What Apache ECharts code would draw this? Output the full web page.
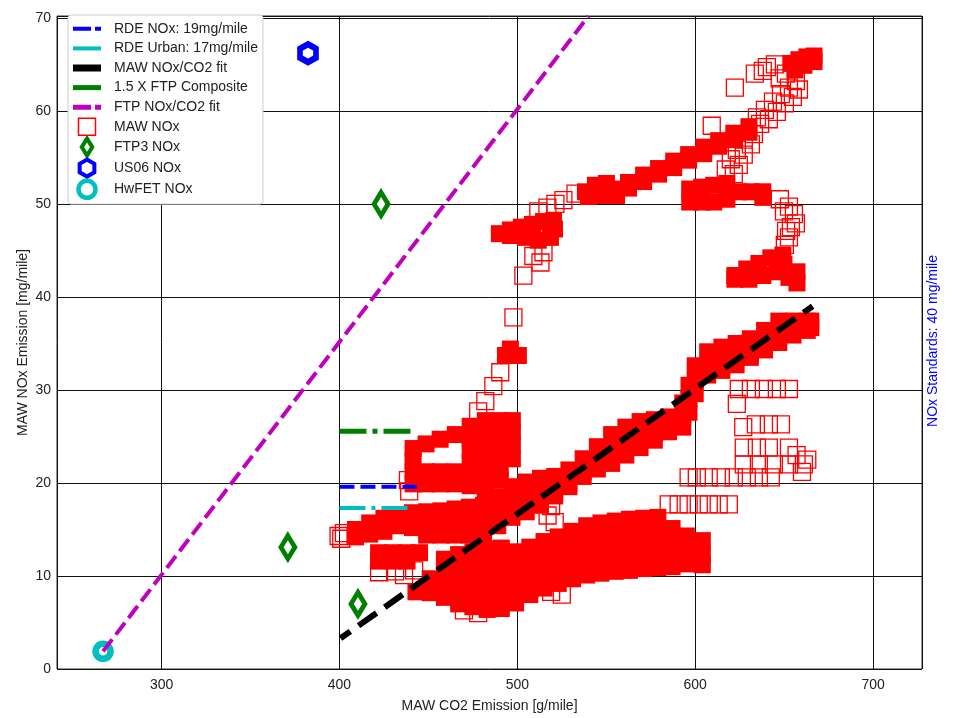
<!DOCTYPE html>
<html><head><meta charset="utf-8">
<script src="https://cdn.jsdelivr.net/npm/echarts@6/dist/echarts.min.js"></script>
<style>html,body{margin:0;padding:0;background:#fff}#c{width:957px;height:718px}</style>
</head><body><div id="c"></div>
<script>
// ---- data (g/mile CO2, mg/mile NOx) ----
var legendNames = ['RDE NOx: 19mg/mile','RDE Urban: 17mg/mile','MAW NOx/CO2 fit','1.5 X FTP Composite','FTP NOx/CO2 fit','MAW NOx','FTP3 NOx','US06 NOx','HwFET NOx'];
var rdeNox = [[400,19.6],[443.5,19.6]];
var rdeUrban = [[400,17.3],[441,17.3]];
var mawFit = [[400.6,3.3],[666,39.0]];
var ftpComposite = [[400,25.55],[441,25.55]];
var ftpFit = [[267.1,1.9],[540,70.2]];
var ftp3 = [[371,13.1],[423.4,50.0],[410.4,7.0]];
var us06 = [[382.3,66.2]];
var hwfet = [[267.1,1.9]];

// MAW NOx points drawn as open squares (sparse parts of the trace)
var mawOpen = [
 [503.4,42.3],[513.0,43.7],[509.0,44.4],[514.7,44.8],[511.8,49.2],[516.9,49.6],[521.4,50.0],[525.9,50.4],[532.7,51.1],
 [609.3,58.4],[622.3,62.5],
 [634.7,59.3],[639.2,60.1],[643.7,61.0],[648.2,61.8],[652.7,62.5],[656.6,63.2],[641.4,59.1],[645.9,59.9],[650.4,60.8],[654.9,61.5],[658.3,62.3],
 [633.5,64.0],[638.0,64.3],[640.3,64.7],[644.8,65.0],[636.5,58.6],[647.5,63.5],[651.0,64.0],
 [627.3,56.9],[623.4,55.8],[620.0,54.8],[617.2,53.7],[631.3,56.4],[627.3,55.3],[624.5,54.2],[621.7,53.2],[633.0,57.5],
 [647.6,50.5],[652.7,49.7],[655.5,48.9],[656.6,47.9],[649.9,49.2],[651.1,47.1],[652.7,46.4],[650.4,45.6],[653.8,47.5],
 [497.8,37.8],[490.4,31.9],[486.5,30.4],[482.0,28.8],[478.0,27.7],
 [399.5,14.3],[401.0,14.0],[402.5,14.6],[439.2,19.1],[438.5,20.3],[447.0,20.5],[517.0,16.5],[521.0,15.8],[519.0,17.5],
 [422.3,10.4],[431.3,10.5],[436.3,10.1],[442.0,10.6],[424.0,11.9],
 [525.0,8.0],[519.0,8.3],[470.0,6.3],[478.0,6.0],
 [585.1,17.7],[590.7,17.7],[596.3,17.7],[602.0,17.7],[607.6,17.7],[613.2,17.7],[618.9,17.7],
 [596.3,20.6],[600.9,20.6],[607.6,20.6],[614.4,20.6],[621.7,20.6],[629.0,20.6],[635.8,20.6],[642.5,20.6],
 [627.3,22.0],[635.8,22.0],[644.2,22.0],[652.7,22.0],[661.1,22.0],[660.0,21.2],[663.0,22.5],[657.0,23.0],
 [627.3,23.8],[634.7,23.8],[641.4,23.8],[652.7,23.8],
 [627.0,26.0],[634.1,26.3],[641.4,26.3],[648.2,26.3],[623.4,28.5],
 [624.5,30.1],[631.3,30.1],[638.6,30.1],[645.9,30.1],[652.7,30.1]
];

// MAW NOx points in the dense parts of the trace (squares overlap into solid bands)
var mawDense = [
 [489.9,46.8],[496.1,47.2],[502.3,47.5],[508.5,47.8],[514.7,48.1],[520.3,48.2],[496.1,46.6],[504.5,46.4],[511.8,46.1],[518.6,46.4],[520.9,47.3],
 [538.3,51.3],[543.9,52.0],[550.1,52.2],[555.8,51.6],[540.0,50.8],[548.5,50.9],[555.8,50.9],
 [562.5,52.3],[562.5,51.7],[571.0,53.1],[571.0,52.4],[579.4,53.8],[579.4,53.2],[587.9,54.6],[587.9,53.9],[596.3,55.3],[596.3,54.7],
 [604.8,56.1],[604.8,55.4],[613.2,56.8],[613.2,56.2],[621.7,57.6],[621.7,56.9],[630.2,58.3],[630.2,57.7],
 [653.8,65.1],[658.3,65.5],[662.8,65.8],[666.8,65.9],[666.8,65.3],[661.1,64.9],[656.1,64.4],
 [596.9,51.6],[596.9,50.2],[603.7,51.8],[603.7,50.2],[610.4,52.0],[610.4,50.2],[617.8,52.2],[617.8,50.5],[624.5,51.3],[631.3,51.3],[638.0,51.3],[638.0,50.7],
 [622.3,42.3],[629.0,43.0],[635.8,43.6],[642.5,44.2],[649.3,44.5],[622.3,41.9],[630.2,41.9],[638.0,42.3],[645.9,42.7],[652.7,42.1],[657.2,41.5],[657.2,42.7],[649.9,43.5],
 [493.3,33.7],[500.6,33.7],[496.1,34.4],
 [441.4,23.7],[441.4,22.4],[441.4,21.2],[441.4,19.9],
 [448.7,24.2],[448.7,21.2],[448.7,19.9],
 [456.6,24.7],[456.6,21.2],[456.6,19.9],
 [465.1,25.2],[465.1,21.2],[465.1,19.9],
 [473.5,26.1],[473.5,24.8],[473.5,23.5],[473.5,22.2],[473.5,20.9],[473.5,19.7],
 [482.0,26.7],[482.0,25.5],[482.0,24.2],[482.0,22.9],[482.0,21.6],[482.0,20.3],[482.0,19.0],
 [490.4,26.7],[490.4,25.5],[490.4,24.2],[490.4,22.9],[490.4,21.6],[490.4,20.3],
 [497.2,26.7],[497.2,25.5],[497.2,24.2],[497.2,22.6],
 [409,15.0],[409,14.2],[417,15.7],[417,14.5],[425,16.2],[425,14.8],[433,16.6],[433,15.4],[441,16.8],[441,15.2],
 [449,16.9],[449,15.4],[449,14.4],[457,17.0],[457,15.6],[457,14.4],[465,17.2],[465,15.7],[465,14.4],[473,17.4],[473,15.8],[473,14.4],
 [481,17.6],[481,16.0],[481,14.5],[489,18.5],[489,16.9],[489,15.4],[497,19.6],[497,18.0],[497,16.3],[505,20.1],[505,18.5],[505,16.9],
 [513,20.5],[513,19.0],[513,17.6],[521,20.7],[521,19.2],[521,18.6],[529,21.4],[529,20.0],[529,19.6],[537,22.6],[537,21.2],[537,20.7],
 [545,23.9],[545,22.4],[545,21.5],[553,25.2],[553,23.7],[553,22.1],[561,26.0],[561,24.5],[561,23.0],[569,26.6],[569,25.1],[569,23.8],
 [577,26.8],[577,25.3],[577,24.6],[585,27.1],[585,25.5],[593,28.6],[593,27.0],[593,26.0],[596.5,30.5],[596.5,29.0],[596.5,27.6],
 [600,32.6],[600,31.0],[600,29.6],[607,34.1],[607,32.6],[607,31.6],[615,34.6],[615,33.0],[615,32.1],[623,35.0],[623,33.5],[623,32.7],
 [631,35.5],[631,34.0],[631,33.5],[639,36.4],[639,35.0],[639,34.3],[647,37.4],[647,36.0],[647,35.1],[655,37.4],[655,35.9],
 [663,37.4],[663,36.4],[665,37.4],[665,36.7],
 [422,12.5],[430,12.5],[438,12.5],[445,12.5],[422,11.6],[430,11.6],[438,11.6],
 [443,8.3],[451,9.7],[451,8.2],[459,11.8],[459,10.3],[459,8.9],[459,7.7],[467,12.3],[467,10.8],[467,9.3],[467,7.7],[467,7.0],
 [475,12.6],[475,11.2],[475,9.7],[475,8.2],[475,6.7],[483,12.9],[483,11.7],[483,10.2],[483,8.7],[483,7.2],[483,6.4],
 [491,13.0],[491,11.9],[491,10.4],[491,8.9],[491,7.4],[491,6.5],
 [499,12.6],[499,11.1],[499,9.6],[499,8.1],[499,7.1],[507,13.1],[507,11.6],[507,10.1],[507,8.6],[507,8.0],
 [515,13.7],[515,12.2],[515,10.7],[515,9.2],[515,8.7],[523,14.2],[523,12.7],[523,11.2],[523,9.7],[523,9.2],
 [531,14.8],[531,13.3],[531,11.8],[531,10.3],[531,9.7],[539,15.4],[539,13.9],[539,12.4],[539,10.9],[539,10.1],
 [547,15.7],[547,14.2],[547,12.7],[547,11.2],[547,10.3],[555,15.9],[555,14.4],[555,12.9],[555,11.4],[555,10.5],
 [563,16.1],[563,14.6],[563,13.1],[563,11.6],[563,10.6],[571,16.2],[571,14.7],[571,13.2],[571,11.7],[571,10.8],
 [579,16.3],[579,14.8],[579,13.3],[579,11.8],[579,10.9],[587,15.1],[587,13.6],[587,12.1],[587,11.0],
 [595,14.3],[595,12.8],[595,11.3],[604,13.8],[604,12.3],[604,11.2]
];

var xMin = 241.2, xMax = 727.5, yMin = 0, yMax = 70.2;

var font = 'Liberation Sans, Arial, sans-serif';
var chart = echarts.init(document.getElementById('c'), null, {renderer:'canvas'});
function lineSeries(name, data, color, width, dash, offset){
  return {name:name, type:'line', data:data, symbol:'none', z:5, clip:true,
    lineStyle:{color:color, width:width, type:dash, dashOffset:offset||0, cap:'butt'}, itemStyle:{color:color}, silent:true};
}
var hexPath = 'path://M0,-1 L0.866,-0.5 L0.866,0.5 L0,1 L-0.866,0.5 L-0.866,-0.5 Z';
var legendIcons = {
  'RDE NOx: 19mg/mile':['path://M0,0 L18,0 L18,4 L0,4 Z M22,0 L28,0 L28,4 L22,4 Z',0],
  'RDE Urban: 17mg/mile':['path://M0,0 L28,0 L28,4 L0,4 Z',0],
  'MAW NOx/CO2 fit':['path://M0,0 L28,0 L28,7 L0,7 Z',0],
  '1.5 X FTP Composite':['path://M0,0 L28,0 L28,5 L0,5 Z',0],
  'FTP NOx/CO2 fit':['path://M0,0 L18,0 L18,5 L0,5 Z M22,0 L28,0 L28,5 L22,5 Z',0],
  'MAW NOx':['path://M0,0 L1,0 L1,1 L0,1 Z',1.5],
  'FTP3 NOx':['path://M0,-1 L0.62,0 L0,1 L-0.62,0 Z',4],
  'US06 NOx':[hexPath,4],
  'HwFET NOx':['circle',4.5]
};
chart.setOption({
  animation:false,
  grid:{left:57, right:35, top:16, bottom:48, show:true, borderColor:'#333', borderWidth:1, backgroundColor:'#fff'},
  xAxis:{type:'value', min:xMin, max:xMax, minInterval:100, maxInterval:100,
    name:'MAW CO2 Emission [g/mile]', nameLocation:'middle', nameGap:30, nameMoveOverlap:false,
    nameTextStyle:{fontFamily:font, fontSize:14, color:'#222'},
    axisLine:{show:false}, axisTick:{show:false},
    axisLabel:{fontFamily:font, fontSize:14, color:'#222', margin:9, showMinLabel:false, showMaxLabel:false},
    splitLine:{show:true, lineStyle:{color:'#111', width:1}}},
  yAxis:{type:'value', min:yMin, max:yMax, interval:10,
    name:'MAW NOx Emission [mg/mile]', nameLocation:'middle', nameGap:27, nameMoveOverlap:false,
    nameTextStyle:{fontFamily:font, fontSize:14, color:'#222'},
    axisLine:{show:false}, axisTick:{show:false},
    axisLabel:{fontFamily:font, fontSize:14, color:'#222', margin:6, showMaxLabel:false,
      formatter:function(v){return (Math.abs(v%10)<1e-6)? String(v):'';}},
    splitLine:{show:true, lineStyle:{color:'#111', width:1}}},
  legend:{data:legendNames.map(function(n){return {name:n, icon:legendIcons[n][0], itemStyle:legendIcons[n][1]?{borderWidth:legendIcons[n][1]}:{}};}),
    orient:'vertical', left:68, top:15, padding:[4,5,4,5],
    itemWidth:28, itemHeight:17, itemGap:0, symbolKeepAspect:true,
    backgroundColor:'#fff', borderColor:'#ccc', borderWidth:1, borderRadius:3,
    textStyle:{fontFamily:font, fontSize:14, color:'#222', padding:[0,0,0,8], lineHeight:19.6, height:19.6}, selectedMode:false},
  graphic:[{type:'text', x:933, y:341, rotation:Math.PI/2,
    style:{text:'NOx Standards: 40 mg/mile', fill:'#0000ff', font:'14px Liberation Sans, Arial, sans-serif', textAlign:'center', textVerticalAlign:'middle'}}],
  series:[
    {name:'MAW NOx', type:'scatter', data:mawOpen, symbol:'rect', symbolSize:17, z:2,
      itemStyle:{color:'rgba(255,255,255,0)', borderColor:'#ff0000', borderWidth:1.3, opacity:1}},
    {name:'MAW NOx dense', type:'scatter', data:mawDense, symbol:'rect', symbolSize:17, z:2,
      itemStyle:{color:'#ff0000', borderColor:'#ff0000', borderWidth:0, opacity:1}},
    {name:'FTP3 NOx', type:'scatter', data:ftp3, symbol:'diamond', symbolSize:[14,23], z:3,
      itemStyle:{color:'#ffffff', borderColor:'#008000', borderWidth:5, opacity:1}},
    {name:'US06 NOx', type:'scatter', data:us06, symbol:hexPath, symbolSize:[16,18], symbolKeepAspect:false, z:3,
      itemStyle:{color:'#ffffff', borderColor:'#0000ff', borderWidth:6, opacity:1}},
    {name:'HwFET NOx', type:'scatter', data:hwfet, symbol:'circle', symbolSize:15, z:3,
      itemStyle:{color:'#ffffff', borderColor:'#00bfbf', borderWidth:6.5, opacity:1}},
    lineSeries('RDE NOx: 19mg/mile', rdeNox, '#0000ff', 4, [15,6]),
    lineSeries('RDE Urban: 17mg/mile', rdeUrban, '#00bfbf', 4, [26,6,4,6]),
    lineSeries('MAW NOx/CO2 fit', mawFit, '#000000', 6, [22,10], 10),
    lineSeries('1.5 X FTP Composite', ftpComposite, '#008000', 5, [27,6,5,6]),
    lineSeries('FTP NOx/CO2 fit', ftpFit, '#bf00bf', 4, [15,6])
  ]
});
</script></body></html>
